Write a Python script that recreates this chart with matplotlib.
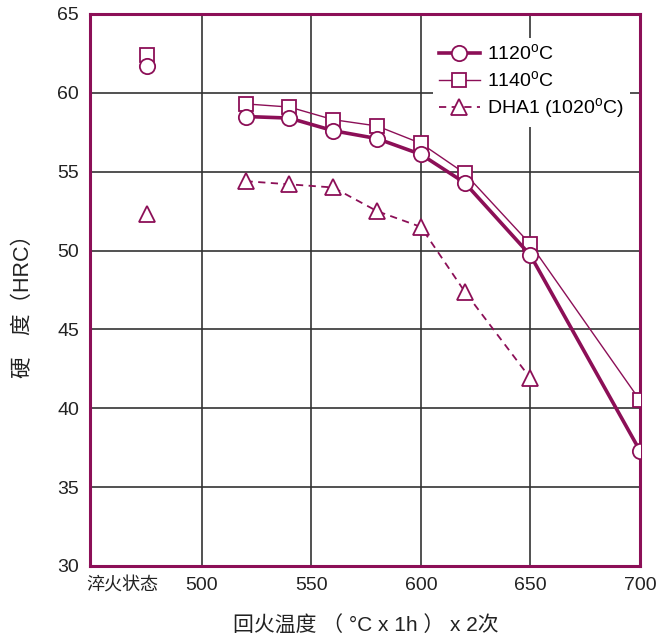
import matplotlib.pyplot as plt

plt.rcParams['font.family'] = ['Liberation Sans', 'Noto Sans CJK SC', 'DejaVu Sans']
plt.rcParams['mathtext.fontset'] = 'custom'
plt.rcParams['mathtext.rm'] = 'Liberation Sans'

# tempering temperature (C); the quenched state is placed at 475 on the axis
quench_x = 475
temps = [520, 540, 560, 580, 600, 620, 650, 700]
temps_dha = [520, 540, 560, 580, 600, 620, 650]

hrc_1120 = [58.5, 58.4, 57.6, 57.1, 56.1, 54.3, 49.7, 37.3]
hrc_1140 = [59.3, 59.1, 58.3, 57.9, 56.8, 54.9, 50.4, 40.5]
hrc_dha1 = [54.4, 54.2, 54.0, 52.5, 51.5, 47.4, 41.9]

q_1120 = 61.7
q_1140 = 62.4
q_dha1 = 52.3

xticks = [500, 550, 600, 650, 700]
yticks = [30, 35, 40, 45, 50, 55, 60, 65]

col = '#8c0f57'
txt = '#222222'
cjk = ['Noto Sans CJK SC', 'DejaVu Sans']
mixed = ['Liberation Sans', 'Noto Sans CJK SC']

fig = plt.figure(figsize=(6.58, 6.39), dpi=100)
ax = fig.add_axes([90/658, 73/639, 550/658, 552/639])

ax.plot(temps, hrc_1120, color=col, lw=2.6, marker='o', ms=11,
        mfc='white', mec=col, mew=1.3, label='1120$^{\\mathrm{o}}$C', zorder=4)
ax.plot(temps, hrc_1140, color=col, lw=1.0, marker='s', ms=10,
        mfc='white', mec=col, mew=1.3, label='1140$^{\\mathrm{o}}$C', zorder=3)
ax.plot(temps_dha, hrc_dha1, color=col, lw=1.3, ls=(0, (4, 3)), marker='^', ms=11,
        mfc='white', mec=col, mew=1.3, label='DHA1 (1020$^{\\mathrm{o}}$C)', zorder=3)

# quenched state
ax.plot([quench_x], [q_1140], marker='s', ms=10, mfc='white', mec=col, mew=1.3, ls='none', zorder=3)
ax.plot([quench_x], [q_1120], marker='o', ms=11, mfc='white', mec=col, mew=1.3, ls='none', zorder=4)
ax.plot([quench_x], [q_dha1], marker='^', ms=11, mfc='white', mec=col, mew=1.3, ls='none', zorder=3)

ax.set_xlim(449, 700)
ax.set_ylim(30, 65)
ax.set_xticks(xticks)
ax.set_yticks(yticks)
ax.grid(True, color='#333333', lw=1.2)
ax.set_axisbelow(True)
ax.tick_params(length=0, labelsize=14, colors=txt, pad=8)

for s in ax.spines.values():
    s.set_color(col)
    s.set_linewidth(2.2)

ax.text(-0.006, -0.036, '淬火状态', transform=ax.transAxes, fontsize=13,
        family=cjk, ha='left', va='center', color=txt)

fig.text(366/658, 1 - 626/639, '回火温度 （ °C x 1h ） x 2次', fontsize=15,
         family=mixed, ha='center', va='center', color=txt)
fig.text(23/658, 1 - 301/639, '硬　度（HRC）', fontsize=15.5, rotation=90,
         family=mixed, ha='center', va='center', color=txt)

leg = ax.legend(loc='upper right', bbox_to_anchor=(1.0, 0.975), fontsize=14,
                handlelength=2.1, frameon=True, fancybox=False, borderpad=0.3,
                labelspacing=0.3, handletextpad=0.4)
leg.get_frame().set_edgecolor('none')
leg.get_frame().set_facecolor('white')
leg.get_frame().set_alpha(1)

fig.savefig('out.png', dpi=100)
